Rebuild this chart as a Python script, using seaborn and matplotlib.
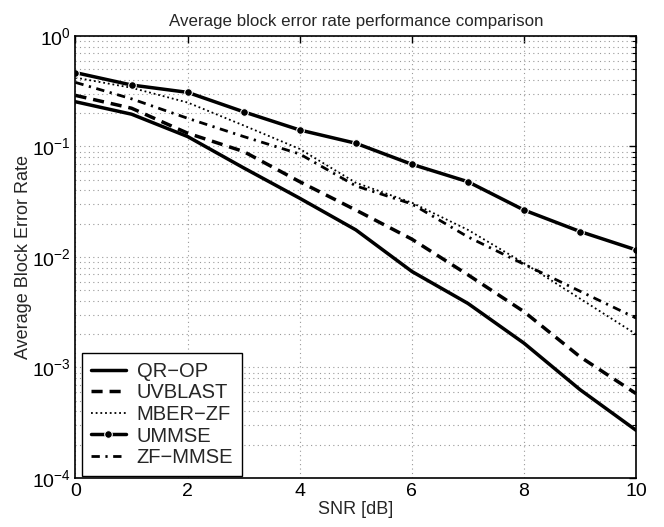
import numpy as np
import pandas as pd
import matplotlib
matplotlib.use("Agg")
import matplotlib.pyplot as plt
import seaborn as sns
from matplotlib.ticker import LogLocator, NullFormatter, FixedLocator

snr = [0, 1, 2, 3, 4, 5, 6, 7, 8, 9, 10]
qr_op = [0.254, 0.196, 0.123, 0.064, 0.034, 0.0176, 0.0074, 0.0038, 0.00166, 0.00063, 0.00027]
uvblast = [0.29, 0.222, 0.132, 0.09, 0.048, 0.0266, 0.0145, 0.0069, 0.0032, 0.00125, 0.00058]
mber_zf = [0.42, 0.34, 0.25, 0.155, 0.095, 0.047, 0.031, 0.0176, 0.0088, 0.0042, 0.0020]
ummse = [0.466, 0.36, 0.309, 0.206, 0.141, 0.107, 0.069, 0.048, 0.0266, 0.017, 0.0116]
zf_mmse = [0.38, 0.27, 0.18, 0.123, 0.0855, 0.044, 0.0302, 0.0152, 0.0086, 0.0049, 0.0028]

series_names = ["QR\u2212OP", "UVBLAST", "MBER\u2212ZF", "UMMSE", "ZF\u2212MMSE"]
series_vals = [qr_op, uvblast, mber_zf, ummse, zf_mmse]

title = "Average block error rate performance comparison"
xlabel = "SNR [dB]"
ylabel = "Average Block Error Rate"

sns.set_style("white")
plt.rcParams["font.family"] = ["Liberation Sans", "DejaVu Sans"]
plt.rcParams["mathtext.fontset"] = "custom"
plt.rcParams["mathtext.rm"] = "Liberation Sans"
plt.rcParams["mathtext.it"] = "Liberation Sans"

fig = plt.figure(figsize=(6.64, 5.27), dpi=100)
ax = fig.add_axes([0.1137, 0.093, 0.958 - 0.1137, 0.9317 - 0.093])

styles = [
    dict(linestyle="-", linewidth=2.5),
    dict(linestyle=(0, (3.2, 2.0)), linewidth=2.5),
    dict(linestyle=(0, (1.0, 1.6)), linewidth=1.3),
    dict(linestyle="-", linewidth=2.5, marker="o", markersize=5.5),
    dict(linestyle=(0, (3.0, 2.0, 0.8, 2.0)), linewidth=2.0),
]

for name, vals, st in zip(series_names, series_vals, styles):
    df = pd.DataFrame({"snr": snr, "ber": vals})
    sns.lineplot(data=df, x="snr", y="ber", ax=ax, color="black", label=name, **st)

ax.set_yscale("log")
ax.set_xlim(0, 10)
ax.set_ylim(1e-4, 1)
ax.xaxis.set_major_locator(FixedLocator([0, 2, 4, 6, 8, 10]))
ax.yaxis.set_major_locator(LogLocator(base=10, numticks=10))
ax.yaxis.set_minor_locator(LogLocator(base=10, subs=np.arange(2, 10), numticks=50))
ax.yaxis.set_minor_formatter(NullFormatter())

ax.grid(True, which="major", axis="both", color="#999999", linestyle=(0, (1, 3)), linewidth=0.8)
ax.grid(True, which="minor", axis="y", color="#999999", linestyle=(0, (1, 3)), linewidth=0.8)
ax.tick_params(which="both", direction="in", top=True, right=True, labelsize=14, colors="black")
ax.tick_params(which="major", length=5, width=1)
ax.tick_params(which="minor", length=3, width=0.8)
for sp in ax.spines.values():
    sp.set_color("black")
    sp.set_linewidth(1.2)

ax.set_title(title, fontsize=12.2, pad=7)
ax.set_xlabel(xlabel, fontsize=13, labelpad=1)
ax.set_ylabel(ylabel, fontsize=13, labelpad=0)

leg = ax.legend(loc="lower left", bbox_to_anchor=(0.012, 0.004), fontsize=14.5, frameon=True,
                fancybox=False, edgecolor="black", framealpha=1, borderaxespad=0,
                handlelength=1.7, handletextpad=0.55, labelspacing=0.13, borderpad=0.45)
leg.get_frame().set_linewidth(1.0)

fig.savefig("out.png", dpi=100)
